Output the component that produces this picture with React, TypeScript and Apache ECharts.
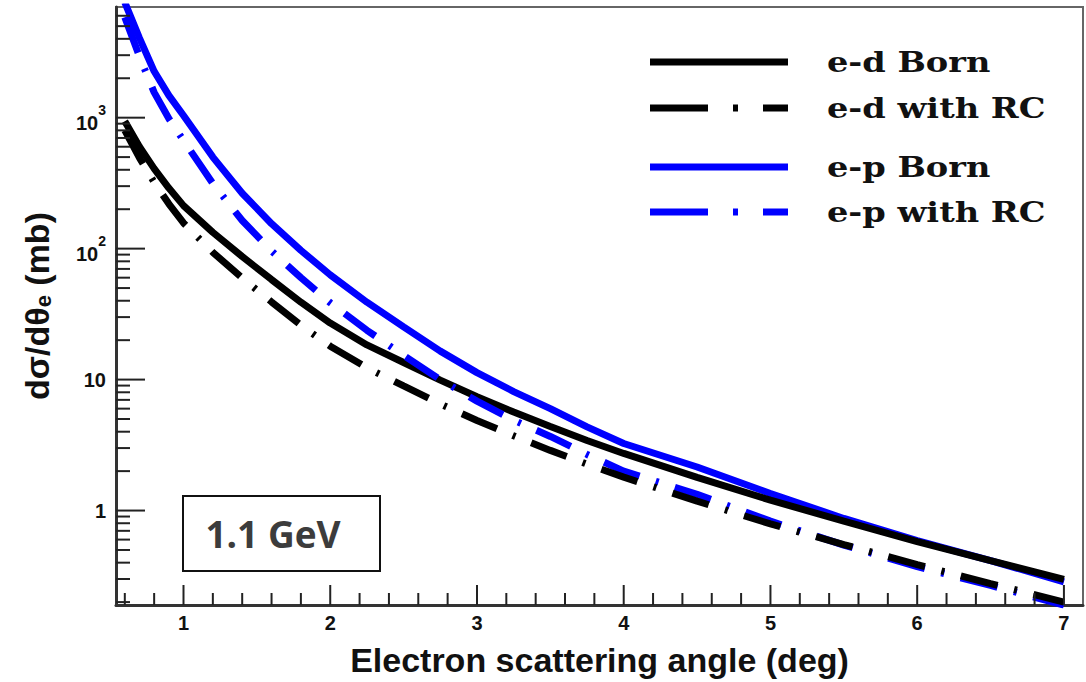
import React, { useEffect, useRef } from "react";
import * as echarts from "echarts";

// Scattering angle (deg)
const ANGLES = [0.6, 0.7, 0.8, 0.9, 1.0, 1.2, 1.4, 1.6, 1.8, 2.0, 2.25, 2.5, 2.75, 3.0, 3.25, 3.5, 3.75, 4.0, 4.5, 5.0, 5.5, 6.0, 6.5, 7.0];
// dσ/dθ (mb)
const ED_BORN = [940, 601, 408, 290, 213, 133, 87, 58, 39, 27, 18.4, 13.5, 9.9, 7.4, 5.65, 4.38, 3.43, 2.73, 1.79, 1.2, 0.83, 0.58, 0.415, 0.298];
const ED_RC = [800, 493, 321, 220, 157, 93.7, 59.6, 39.2, 26, 18, 12.3, 8.94, 6.51, 4.87, 3.72, 2.88, 2.26, 1.8, 1.18, 0.79, 0.55, 0.387, 0.277, 0.2];
const EP_BORN = [7600, 4050, 2260, 1480, 1040, 500, 265, 155, 97, 63, 39, 25.3, 16.5, 11.3, 8.1, 6.0, 4.35, 3.25, 2.15, 1.35, 0.87, 0.59, 0.415, 0.285];
const EP_RC = [5850, 2930, 1560, 985, 670, 314, 164, 96, 60, 38.6, 23.8, 15.3, 10.0, 6.85, 4.9, 3.68, 2.68, 2.0, 1.33, 0.83, 0.545, 0.373, 0.268, 0.19];

const SERIES_NAMES = ["e-d Born", "e-d with RC", "e-p Born", "e-p with RC"];

// Axis ticks
const X_MAJOR_TICKS = [1, 2, 3, 4, 5, 6, 7];
const X_MINOR_TICKS = [0.6, 0.8, 1.2, 1.4, 1.6, 1.8, 2.2, 2.4, 2.6, 2.8, 3.2, 3.4, 3.6, 3.8, 4.2, 4.4, 4.6, 4.8, 5.2, 5.4, 5.6, 5.8, 6.2, 6.4, 6.6, 6.8];
const Y_MAJOR_TICKS = [1, 10, 100, 1000];
const Y_MINOR_TICKS = [0.2, 0.3, 0.4, 0.5, 0.6, 0.7, 0.8, 0.9, 2, 3, 4, 5, 6, 7, 8, 9, 20, 30, 40, 50, 60, 70, 80, 90, 200, 300, 400, 500, 600, 700, 800, 900, 2000, 3000, 4000, 5000, 6000];

const X_MIN = 0.54;
const X_MAX = 7.13;
const Y_MIN = 0.19;
const Y_MAX = 7000;

const SANS = '"Liberation Sans", Arial, sans-serif';
const SERIF = '"DejaVu Serif", serif';
const BLUE = "#0000ff";
const BLACK = "#000000";

function pairs(xs: number[], ys: number[]) {
  return xs.map((x, i) => [x, ys[i]]);
}

export default function App() {
  const ref = useRef<HTMLDivElement>(null);

  useEffect(() => {
    const chart = echarts.init(ref.current as HTMLDivElement, null, { renderer: "svg" });
    const dash = [38, 17, 3, 17];

    const lineSeries = (name: string, ys: number[], color: string, dashed: boolean, z: number) => ({
      name,
      type: "line",
      data: pairs(ANGLES, ys),
      showSymbol: false,
      symbol: "none",
      smooth: false,
      z,
      lineStyle: { color, width: 7, type: dashed ? dash : "solid", cap: "butt" },
    });

    const legendRows = [
      { y: 62, color: BLACK, dashed: false, text: SERIES_NAMES[0] },
      { y: 108, color: BLACK, dashed: true, text: SERIES_NAMES[1] },
      { y: 167, color: BLUE, dashed: false, text: SERIES_NAMES[2] },
      { y: 212, color: BLUE, dashed: true, text: SERIES_NAMES[3] },
    ];
    const legendGraphics: any[] = [];
    legendRows.forEach((r) => {
      legendGraphics.push({
        type: "line",
        shape: { x1: 650, y1: r.y, x2: 788, y2: r.y },
        style: { stroke: r.color, lineWidth: 7, lineDash: r.dashed ? [58, 25, 5, 25] : null },
        z: 20,
      });
      legendGraphics.push({
        type: "text",
        x: 827,
        y: r.y,
        scaleX: 1.2,
        style: {
          text: r.text,
          fill: "#111",
          fontFamily: SERIF,
          fontWeight: "bold",
          fontSize: 28,
          align: "left",
          verticalAlign: "middle",
        },
        z: 20,
      });
    });

    const boxGraphics = [
      {
        type: "rect",
        shape: { x: 183, y: 496, width: 197, height: 75 },
        style: { fill: "#ffffff", stroke: "#111", lineWidth: 2 },
        z: 20,
      },
      {
        type: "text",
        x: 273,
        y: 533,
        style: {
          text: "1.1 GeV",
          fill: "#3c3c3c",
          fontFamily: '"Open Sans", sans-serif',
          fontWeight: 700,
          fontSize: 37,
          align: "center",
          verticalAlign: "middle",
        },
        z: 21,
      },
    ];

    chart.setOption({
      animation: false,
      backgroundColor: "#ffffff",
      grid: {
        left: 116,
        right: 3,
        top: 7,
        bottom: 76,
        show: true,
        borderColor: "#666",
        borderWidth: 2,
        backgroundColor: "transparent",
      },
      xAxis: {
        type: "value",
        min: X_MIN,
        max: X_MAX,
        splitNumber: 6,
        name: "Electron scattering angle (deg)",
        nameLocation: "middle",
        nameGap: 38,
        nameTextStyle: { fontFamily: SANS, fontWeight: "bold", fontSize: 34, color: "#111" },
        axisLine: { show: true, lineStyle: { color: "#333", width: 3 } },
        axisTick: { show: false },
        splitLine: { show: false },
        axisLabel: {
          margin: 8,
          fontFamily: SANS,
          fontWeight: "bold",
          fontSize: 20,
          color: "#111",
          formatter: (v: number) => (Math.abs(v - Math.round(v)) < 1e-6 ? String(Math.round(v)) : ""),
        },
      },
      yAxis: {
        type: "log",
        logBase: 10,
        min: Y_MIN,
        max: Y_MAX,
        name: "dσ/dθ{sub|e} (mb)",
        nameLocation: "middle",
        nameRotate: 90,
        nameGap: 62,
        nameTextStyle: {
          fontFamily: SANS,
          fontWeight: "bold",
          fontSize: 34,
          color: "#111",
          rich: {
            sub: {
              fontFamily: SANS,
              fontWeight: "bold",
              fontSize: 22,
              color: "#111",
              lineHeight: 22,
              padding: [14, 0, 0, 0],
              verticalAlign: "bottom",
            },
          },
        },
        axisLine: { show: true, lineStyle: { color: "#333", width: 3 } },
        axisTick: { show: false },
        splitLine: { show: false },
        axisLabel: {
          margin: 10,
          fontFamily: SANS,
          fontWeight: "bold",
          fontSize: 20,
          color: "#111",
          formatter: (v: number) => {
            const e = Math.log10(v);
            const r = Math.round(e);
            if (Math.abs(e - r) > 1e-6) return "";
            if (r >= 2) return "{base|10}{sup|" + r + "}";
            if (r === 1) return "10";
            if (r === 0) return "1";
            return "";
          },
          rich: {
            base: { fontFamily: SANS, fontWeight: "bold", fontSize: 20, color: "#111", lineHeight: 30, verticalAlign: "bottom", padding: [8, 0, 0, 0] },
            sup: { fontFamily: SANS, fontWeight: "bold", fontSize: 14, color: "#111", lineHeight: 14, verticalAlign: "top" },
          },
        },
      },
      series: [
        lineSeries(SERIES_NAMES[2], EP_BORN, BLUE, false, 2),
        lineSeries(SERIES_NAMES[0], ED_BORN, BLACK, false, 3),
        lineSeries(SERIES_NAMES[3], EP_RC, BLUE, true, 4),
        lineSeries(SERIES_NAMES[1], ED_RC, BLACK, true, 5),
      ],
    });

    // Tick marks positioned through the chart's own axis scales
    const tickGraphics: any[] = [];
    const finder = { gridIndex: 0 };
    const addX = (v: number, len: number) => {
      const p = chart.convertToPixel(finder, [v, Y_MIN]) as number[];
      if (!p || !isFinite(p[0]) || !isFinite(p[1])) return;
      tickGraphics.push({
        type: "line",
        shape: { x1: p[0], y1: p[1], x2: p[0], y2: p[1] - len },
        style: { stroke: "#222", lineWidth: 2 },
        z: 15,
        silent: true,
      });
    };
    const addY = (v: number, len: number) => {
      const p = chart.convertToPixel(finder, [X_MIN, v]) as number[];
      if (!p || !isFinite(p[0]) || !isFinite(p[1])) return;
      tickGraphics.push({
        type: "line",
        shape: { x1: p[0], y1: p[1], x2: p[0] + len, y2: p[1] },
        style: { stroke: "#222", lineWidth: 2 },
        z: 15,
        silent: true,
      });
    };
    X_MAJOR_TICKS.forEach((v) => addX(v, 20));
    X_MINOR_TICKS.forEach((v) => addX(v, 12));
    Y_MAJOR_TICKS.forEach((v) => addY(v, 29));
    Y_MINOR_TICKS.forEach((v) => addY(v, 14));

    chart.setOption({ graphic: [...tickGraphics, ...legendGraphics, ...boxGraphics] });

    return () => {
      chart.dispose();
    };
  }, []);

  return (
    <div
      ref={ref}
      style={{ position: "fixed", left: 0, top: 0, width: 1086, height: 682, background: "#fff" }}
    />
  );
}
